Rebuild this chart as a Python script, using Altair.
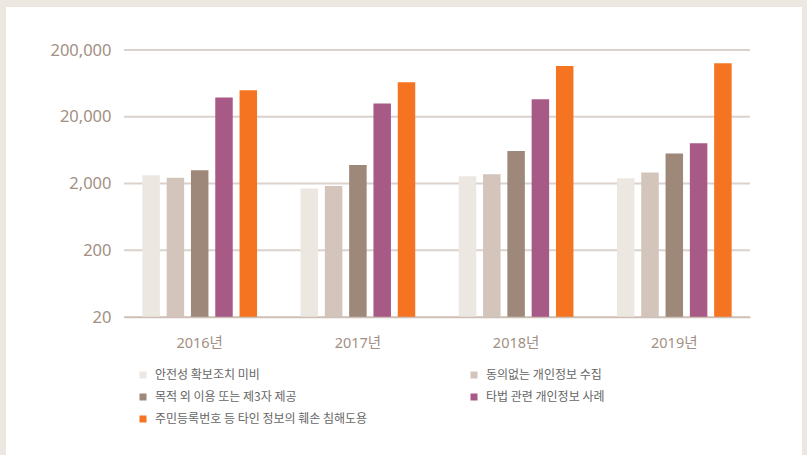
import altair as alt
import pandas as pd

years = ["2016년", "2017년", "2018년", "2019년"]
categories = [
    "안전성 확보조치 미비",
    "동의없는 개인정보 수집",
    "목적 외 이용 또는 제3자 제공",
    "타법 관련 개인정보 사례",
    "주민등록번호 등 타인 정보의 훼손 침해도용",
]
colors = ["#EDE7E2", "#D3C5BB", "#9E887A", "#A85A87", "#F47421"]

safety = [2660, 1680, 2570, 2400]
no_consent = [2430, 1840, 2760, 2920]
third_party = [3170, 3800, 6160, 5620]
other_law = [38800, 31560, 36700, 8040]
id_misuse = [50100, 66000, 114800, 127000]
series = [safety, no_consent, third_party, other_law, id_misuse]

tick_values = [20, 200, 2000, 20000, 200000]

rows = []
for cat, vals in zip(categories, series):
    for yr, v in zip(years, vals):
        rows.append({"year": yr, "cat": cat, "value": v})
df = pd.DataFrame(rows)
grid_df = pd.DataFrame({"value": tick_values})

FONT = "'Noto Sans', 'Noto Sans CJK KR', sans-serif"
KFONT = "'Noto Sans CJK KR', sans-serif"
LABEL_COLOR = "#A38F83"
GRID_COLOR = "#DCD2CB"

yscale = alt.Scale(type="log", domain=[20, 200000], nice=False)
yaxis = alt.Axis(
    title=None, values=tick_values, format=",", ticks=False,
    domain=False, grid=False, labelPadding=13, labelFontSize=16.5,
    labelColor=LABEL_COLOR, labelFont=FONT, zindex=1,
)

panel = alt.Chart(alt.Data(values=[{"p": 1}])).mark_rect(color="white").encode(
    x=alt.value(-118), x2=alt.value(678), y=alt.value(-43), y2=alt.value(410)
)

grid = alt.Chart(grid_df).mark_rule(color=GRID_COLOR, strokeWidth=2).encode(
    y=alt.Y("value:Q", scale=yscale, axis=yaxis)
)

bars = alt.Chart(df).mark_bar().encode(
    x=alt.X(
        "year:N",
        sort=years,
        scale=alt.Scale(paddingInner=0.275, paddingOuter=0.116),
        axis=alt.Axis(
            title=None, labelAngle=0, ticks=False, domain=True,
            domainColor="#CDBFB5", domainWidth=1.5, labelPadding=19,
            labelFontSize=14.5, labelColor=LABEL_COLOR, labelFont=FONT,
            zindex=1,
        ),
    ),
    xOffset=alt.XOffset(
        "cat:N", sort=categories,
        scale=alt.Scale(paddingInner=0.28, paddingOuter=0),
    ),
    y=alt.Y("value:Q", stack=None, scale=yscale, axis=yaxis),
    color=alt.Color(
        "cat:N",
        sort=categories,
        scale=alt.Scale(domain=categories, range=colors),
        legend=alt.Legend(
            orient="none", legendX=13, legendY=319, title=None,
            columns=2, direction="horizontal", columnPadding=100, rowPadding=10,
            symbolType="square", symbolSize=49, symbolStrokeWidth=0,
            labelFontSize=12, labelColor="#666666", labelFont=KFONT,
            labelOffset=6, padding=0, labelLimit=400, zindex=1,
        ),
    ),
)

chart = (
    alt.layer(panel, grid, bars)
    .properties(
        width=626,
        height=267,
        autosize=alt.AutoSizeParams(type="none"),
        padding={"left": 124, "top": 50, "right": 57, "bottom": 138},
        background="#EDE7E2",
    )
    .configure_view(stroke=None)
)

chart.save("out.html", embed_options={"renderer": "svg", "actions": False})
